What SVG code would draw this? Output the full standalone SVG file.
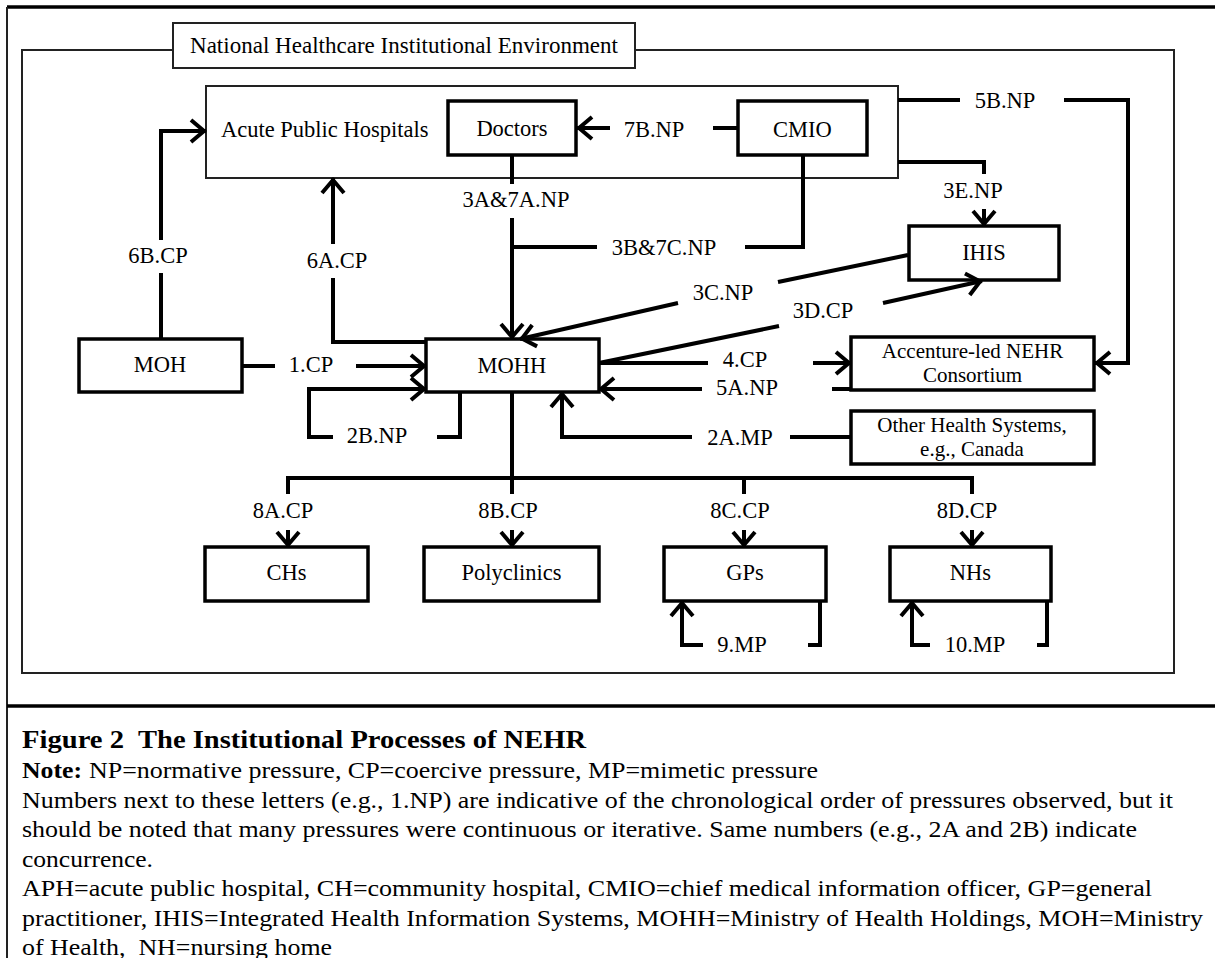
<svg xmlns="http://www.w3.org/2000/svg" width="1215" height="958" viewBox="0 0 1215 958">
<style>
text{font-family:"Liberation Serif","Times New Roman",serif;fill:#000}
.t{font-size:22.5px;text-anchor:middle}
.t2{font-size:21px;text-anchor:middle}
.ts{font-size:22.5px}
.cap{font-size:24px}
.capb{font-size:25px;font-weight:bold}
.thin{fill:#fff;stroke:#222;stroke-width:2}
.node{fill:#fff;stroke:#000;stroke-width:3.5}
.c{fill:none;stroke:#000;stroke-width:4;stroke-linejoin:miter;stroke-linecap:butt}
.a{marker-end:url(#ah)}
</style>
<defs>
<marker id="ah" viewBox="-20 -14 24 28" refX="0" refY="0" markerWidth="24" markerHeight="28" markerUnits="userSpaceOnUse" orient="auto">
<path d="M-15,-11 L-2,0 L-15,11" fill="none" stroke="#000" stroke-width="4"/>
</marker>
</defs>
<rect width="1215" height="958" fill="#fff"/>
<g id="frame">
<line x1="7" y1="7" x2="1215" y2="7" stroke="#000" stroke-width="3.5"/>
<line x1="7" y1="7" x2="7" y2="958" stroke="#222" stroke-width="2"/>
<line x1="7" y1="706" x2="1215" y2="706" stroke="#000" stroke-width="3.5"/>
<rect x="22" y="50" width="1152" height="623" fill="none" stroke="#222" stroke-width="2"/>
</g>
<g id="env-title">
<rect class="thin" x="173" y="23" width="462" height="45"/>
<text class="ts" x="190" y="53" textLength="428" lengthAdjust="spacingAndGlyphs">National Healthcare Institutional Environment</text>
</g>
<g id="aph">
<rect class="thin" x="206" y="86" width="692" height="92"/>
<text class="ts" x="221" y="137">Acute Public Hospitals</text>
</g>
<g id="doctors">
<rect class="node" x="448" y="101" width="128" height="54"/>
<text class="t" x="512" y="136">Doctors</text>
</g>
<g id="cmio">
<rect class="node" x="738" y="101" width="129" height="54"/>
<text class="t" x="802.5" y="137">CMIO</text>
</g>
<g id="ihis">
<rect class="node" x="909" y="226" width="150" height="54"/>
<text class="t" x="984" y="260">IHIS</text>
</g>
<g id="moh">
<rect class="node" x="79" y="339" width="163" height="53"/>
<text class="t" x="160" y="372">MOH</text>
</g>
<g id="mohh">
<rect class="node" x="426" y="339" width="173" height="53"/>
<text class="t" x="512" y="373">MOHH</text>
</g>
<g id="accenture">
<rect class="node" x="851" y="337" width="243" height="53"/>
<text class="t2" x="972.5" y="358">Accenture-led NEHR</text>
<text class="t2" x="972.5" y="382">Consortium</text>
</g>
<g id="other">
<rect class="node" x="851" y="411" width="243" height="53"/>
<text class="t2" x="972" y="432">Other Health Systems,</text>
<text class="t2" x="972" y="456">e.g., Canada</text>
</g>
<g id="chs">
<rect class="node" x="205" y="547" width="163" height="54"/>
<text class="t" x="286.5" y="580">CHs</text>
</g>
<g id="polyclinics">
<rect class="node" x="424" y="547" width="175" height="54"/>
<text class="t" x="511.5" y="580">Polyclinics</text>
</g>
<g id="gps">
<rect class="node" x="664" y="547" width="162" height="54"/>
<text class="t" x="745" y="580">GPs</text>
</g>
<g id="nhs">
<rect class="node" x="890" y="547" width="161" height="54"/>
<text class="t" x="970.5" y="580">NHs</text>
</g>
<g id="connectors">
<line class="c" x1="738" y1="128" x2="713" y2="128"/>
<line class="c a" x1="610" y1="128" x2="577" y2="128"/>
<line class="c" x1="512" y1="155" x2="512" y2="184"/>
<line class="c a" x1="512" y1="218" x2="512" y2="339"/>
<polyline class="c" points="803,155 803,247 745,247"/>
<line class="c" x1="597" y1="247" x2="510" y2="247"/>
<line class="c" x1="908" y1="255" x2="778" y2="282"/>
<line class="c a" x1="678" y1="303" x2="520" y2="339"/>
<line class="c" x1="599" y1="363" x2="779" y2="326"/>
<line class="c a" x1="883" y1="303" x2="982" y2="281"/>
<polyline class="c" points="898,162 984,162 984,174"/>
<line class="c a" x1="984" y1="209" x2="984" y2="226"/>
<line class="c" x1="898" y1="100" x2="960" y2="100"/>
<polyline class="c a" points="1064,100 1128,100 1128,363 1095,363"/>
<line class="c" x1="599" y1="363" x2="708" y2="363"/>
<line class="c a" x1="813" y1="363" x2="851" y2="363"/>
<line class="c" x1="851" y1="389" x2="832" y2="389"/>
<line class="c a" x1="702" y1="389" x2="599" y2="389"/>
<line class="c" x1="851" y1="437" x2="790" y2="437"/>
<polyline class="c a" points="692,437 562,437 562,392"/>
<polyline class="c" points="460,392 460,437 437,437"/>
<polyline class="c a" points="333,437 309,437 309,389 426,389"/>
<line class="c" x1="242" y1="366" x2="275" y2="366"/>
<line class="c a" x1="356" y1="366" x2="426" y2="366"/>
<polyline class="c" points="426,342 333,342 333,278"/>
<line class="c a" x1="333" y1="244" x2="333" y2="178"/>
<line class="c" x1="161" y1="339" x2="161" y2="273"/>
<polyline class="c a" points="161,240 161,131 206,131"/>
<line class="c" x1="512" y1="392" x2="512" y2="494"/>
<line class="c" x1="286" y1="478" x2="974" y2="478"/>
<line class="c" x1="288" y1="478" x2="288" y2="494"/>
<line class="c" x1="744" y1="478" x2="744" y2="494"/>
<line class="c" x1="972" y1="478" x2="972" y2="494"/>
<line class="c a" x1="288" y1="530" x2="288" y2="547"/>
<line class="c a" x1="512" y1="530" x2="512" y2="547"/>
<line class="c a" x1="744" y1="530" x2="744" y2="547"/>
<line class="c a" x1="972" y1="530" x2="972" y2="547"/>
<polyline class="c a" points="703,645 682,645 682,601"/>
<polyline class="c" points="808,645 820,645 820,601"/>
<polyline class="c a" points="930,645 912,645 912,601"/>
<polyline class="c" points="1037,645 1047,645 1047,601"/>
</g>
<g id="labels">
<text class="t" x="654" y="137">7B.NP</text>
<text class="t" x="516" y="207">3A&amp;7A.NP</text>
<text class="t" x="664" y="255">3B&amp;7C.NP</text>
<text class="t" x="723" y="300">3C.NP</text>
<text class="t" x="823" y="318">3D.CP</text>
<text class="t" x="973" y="198">3E.NP</text>
<text class="t" x="1005" y="108">5B.NP</text>
<text class="t" x="745" y="367">4.CP</text>
<text class="t" x="747" y="395">5A.NP</text>
<text class="t" x="740" y="445">2A.MP</text>
<text class="t" x="377" y="443">2B.NP</text>
<text class="t" x="311" y="372">1.CP</text>
<text class="t" x="337" y="268">6A.CP</text>
<text class="t" x="158" y="263">6B.CP</text>
<text class="t" x="283" y="518">8A.CP</text>
<text class="t" x="508" y="518">8B.CP</text>
<text class="t" x="740" y="518">8C.CP</text>
<text class="t" x="967" y="518">8D.CP</text>
<text class="t" x="742" y="652">9.MP</text>
<text class="t" x="975" y="652">10.MP</text>
</g>
<g id="caption">
<text class="capb" x="22" y="748" textLength="102" lengthAdjust="spacingAndGlyphs">Figure 2</text>
<text class="capb" x="138" y="748" textLength="448" lengthAdjust="spacingAndGlyphs">The Institutional Processes of NEHR</text>
<text class="cap" x="22" y="778" font-weight="bold" textLength="60" lengthAdjust="spacingAndGlyphs">Note:</text>
<text class="cap" x="89" y="778" textLength="729" lengthAdjust="spacingAndGlyphs">NP=normative pressure, CP=coercive pressure, MP=mimetic pressure</text>
<text class="cap" x="22" y="808" textLength="1151" lengthAdjust="spacingAndGlyphs">Numbers next to these letters (e.g., 1.NP) are indicative of the chronological order of pressures observed, but it</text>
<text class="cap" x="22" y="837" textLength="1115" lengthAdjust="spacingAndGlyphs">should be noted that many pressures were continuous or iterative. Same numbers (e.g., 2A and 2B) indicate</text>
<text class="cap" x="22" y="867" textLength="131" lengthAdjust="spacingAndGlyphs">concurrence.</text>
<text class="cap" x="22" y="896" textLength="1130" lengthAdjust="spacingAndGlyphs">APH=acute public hospital, CH=community hospital, CMIO=chief medical information officer, GP=general</text>
<text class="cap" x="22" y="926" textLength="1181" lengthAdjust="spacingAndGlyphs">practitioner, IHIS=Integrated Health Information Systems, MOHH=Ministry of Health Holdings, MOH=Ministry</text>
<text class="cap" x="22" y="955" style="white-space:pre" textLength="310" lengthAdjust="spacingAndGlyphs">of Health,  NH=nursing home</text>
</g>
</svg>
